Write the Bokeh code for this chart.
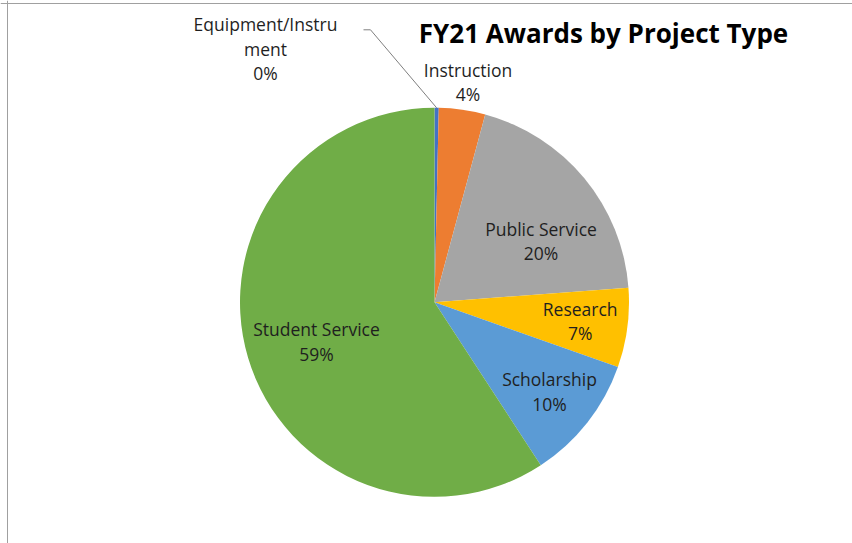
import math
from bokeh.plotting import figure
from bokeh.models import Range1d, Span, ColumnDataSource, Label
from bokeh.core.properties import value
from bokeh.embed import file_html
from bokeh.resources import INLINE

# ---- data ----
categories = ["Equipment/Instrument", "Instruction", "Public Service",
              "Research", "Scholarship", "Student Service"]
shares = [0.35, 3.85, 19.6, 6.6, 10.4, 59.2]
colors = ["#4472C4", "#ED7D31", "#A5A5A5", "#FFC000", "#5B9BD5", "#70AD47"]
title_text = "FY21 Awards by Project Type"

# ---- layout (canvas pixels, 1 data unit = 1 px) ----
W, H = 852, 543
cx, cy, R = 434, 241.2, 194.5
# first-line anchor of each label (x center, y)
label_anchor = [(265, 519.3), (467.5, 474), (540.5, 315), (579.7, 235),
                (549, 164.3), (316, 214.3)]
line_gap = 24.5
font = "Open Sans"
fsize = "17.5px"

p = figure(width=W, height=H, x_range=Range1d(0, W), y_range=Range1d(0, H),
           output_backend="svg", toolbar_location=None, min_border=0,
           x_axis_location=None, y_axis_location=None,
           outline_line_color=None, background_fill_color="white",
           border_fill_color="white")
p.grid.visible = False

total = sum(shares)
starts, ends, mids = [], [], []
cum = 0.0
for v in shares:
    a0 = math.pi / 2 - 2 * math.pi * cum / total
    cum += v
    a1 = math.pi / 2 - 2 * math.pi * cum / total
    starts.append(a0)
    ends.append(a1)
    mids.append((a0 + a1) / 2)

src = ColumnDataSource(dict(start=starts, end=ends, color=colors, cat=categories))
p.wedge(x=cx, y=cy, radius=R, start_angle="start", end_angle="end",
        direction="clock", fill_color="color", line_color=None, source=src)

# labels
tx, ty, tt = [], [], []
for name, v, (ax, ay) in zip(categories, shares, label_anchor):
    pct = f"{int(v / total * 100 + 0.5)}%"
    if len(name) > 16 and " " not in name:
        lines = [name[:16], name[16:], pct]
    else:
        lines = [name, pct]
    for k, ln in enumerate(lines):
        tx.append(ax)
        ty.append(ay - k * line_gap)
        tt.append(ln)
p.text(x=tx, y=ty, text=tt, text_font=value(font), text_font_size=fsize,
       text_align="center", text_baseline="alphabetic", text_color="#1f1f1f")

# leader line for the tiny slice
m = mids[0]
rim = (cx + R * math.cos(m), cy + R * math.sin(m))
p.line(x=[363, 370, rim[0]], y=[513.7, 513.7, rim[1]], line_color="#7f7f7f",
       line_width=1)

# title
p.add_layout(Label(x=603, y=511, text=title_text, text_font=font,
                   text_font_size="26px", text_font_style="bold",
                   text_align="center", text_baseline="alphabetic",
                   text_color="#000000"))

# chart border (top & left visible in the crop)
p.add_layout(Span(location=7, dimension="height", line_color="#a0a0a0", line_width=1))
p.add_layout(Span(location=540, dimension="width", line_color="#a0a0a0", line_width=1))

open("out.html", "w").write(file_html(p, INLINE))
